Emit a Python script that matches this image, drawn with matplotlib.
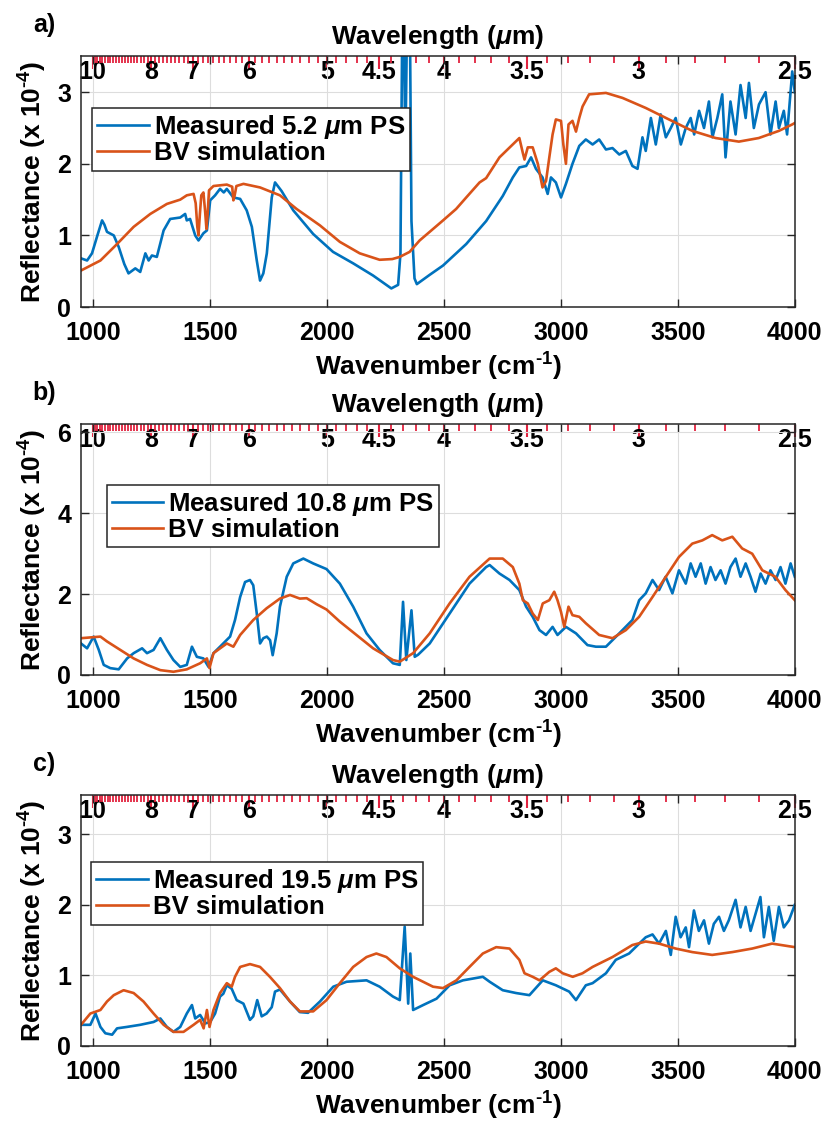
import numpy as np
import matplotlib
matplotlib.use("Agg")
import matplotlib.pyplot as plt
from matplotlib.ticker import FixedLocator

plt.rcParams['font.family'] = ['Liberation Sans', 'DejaVu Sans']
plt.rcParams['font.weight'] = 'bold'
plt.rcParams['mathtext.fontset'] = 'custom'
plt.rcParams['mathtext.rm'] = 'Liberation Sans:bold'
plt.rcParams['mathtext.it'] = 'Liberation Sans:italic'
plt.rcParams['mathtext.bf'] = 'Liberation Sans:bold'

BLUE = '#0072BD'
ORANGE = '#D95319'
RED = '#E2233F'

# ---- panel a: 5.2 um PS ----
a_meas_wn = [950, 976, 997, 1020, 1040, 1050, 1061, 1090, 1111, 1135, 1153, 1182, 1203, 1225, 1239,
             1253, 1274, 1303, 1331, 1374, 1395, 1402, 1416, 1438, 1452, 1473, 1488, 1502, 1523,
             1544, 1560, 1573, 1601, 1630, 1658, 1680, 1701, 1715, 1729, 1744, 1765, 1779, 1807,
             1857, 1942, 2027, 2113, 2198, 2276, 2305, 2315, 2322, 2330, 2336, 2342, 2356, 2362,
             2375, 2385, 2440, 2497, 2596, 2681, 2752, 2795, 2823, 2852, 2873, 2894, 2922, 2944,
             2958, 2979, 3001, 3022, 3050, 3079, 3107, 3136, 3164, 3193, 3221, 3250, 3278, 3306,
             3328, 3349, 3363, 3385, 3406, 3427, 3449, 3470, 3491, 3513, 3534, 3555, 3570, 3591,
             3612, 3633, 3648, 3669, 3690, 3704, 3725, 3747, 3768, 3790, 3804, 3825, 3847, 3875,
             3896, 3918, 3932, 3953, 3967, 3989, 4000]
a_meas = [0.68, 0.65, 0.75, 1.0, 1.21, 1.15, 1.05, 1.0, 0.84, 0.6, 0.47, 0.54, 0.49, 0.75, 0.65,
          0.72, 0.70, 1.07, 1.23, 1.25, 1.30, 1.21, 1.23, 1.0, 0.93, 1.03, 1.07, 1.49, 1.56,
          1.65, 1.60, 1.65, 1.53, 1.51, 1.35, 1.12, 0.65, 0.37, 0.47, 0.75, 1.53, 1.74, 1.62,
          1.35, 1.02, 0.77, 0.61, 0.44, 0.26, 0.31, 0.75, 3.7, 3.7, 2.2, 3.7, 3.7, 1.2,
          0.4, 0.32, 0.45, 0.58, 0.88, 1.2, 1.55, 1.81, 1.95, 1.97, 2.09, 1.93, 1.81, 1.58,
          1.81, 1.74, 1.53, 1.72, 2.0, 2.25, 2.34, 2.27, 2.34, 2.2, 2.22, 2.13, 2.18, 1.97,
          1.93, 2.37, 2.18, 2.64, 2.27, 2.69, 2.37, 2.5, 2.64, 2.27, 2.5, 2.64, 2.41, 2.74,
          2.5, 2.87, 2.37, 2.64, 2.97, 2.09, 2.87, 2.41, 3.1, 2.64, 3.13, 2.5, 2.83, 3.0,
          2.41, 2.87, 2.5, 2.74, 2.41, 3.29, 3.0]
a_sim_wn = [950, 1033, 1104, 1175, 1246, 1317, 1374, 1402, 1431, 1440, 1447, 1452, 1458, 1464, 1473,
            1480, 1486, 1491, 1497, 1516, 1573, 1596, 1601, 1606, 1614, 1644, 1715, 1800, 1871,
            1971, 2056, 2141, 2226, 2280, 2312, 2354, 2397, 2497, 2553, 2596, 2653, 2681, 2738,
            2823, 2838, 2845, 2859, 2880, 2902, 2922, 2937, 2951, 2965, 2979, 3001, 3011, 3022,
            3033, 3050, 3065, 3079, 3093, 3121, 3193, 3264, 3363, 3462, 3562, 3662, 3761, 3846,
            3932, 3989, 4000]
a_sim = [0.51, 0.65, 0.88, 1.12, 1.30, 1.44, 1.50, 1.56, 1.58, 1.45, 1.12, 1.0, 1.3, 1.56, 1.60,
         1.35, 1.09, 1.3, 1.63, 1.69, 1.71, 1.68, 1.49, 1.55, 1.69, 1.72, 1.67, 1.56, 1.37,
         1.14, 0.91, 0.75, 0.66, 0.67, 0.70, 0.77, 0.93, 1.21, 1.37, 1.53, 1.74, 1.8, 2.09,
         2.36, 2.15, 2.06, 2.23, 2.23, 2.0, 1.67, 1.76, 2.09, 2.41, 2.62, 2.6, 2.27, 2.0,
         2.55, 2.6, 2.45, 2.64, 2.8, 2.97, 2.99, 2.92, 2.78, 2.62, 2.46, 2.36, 2.31, 2.36,
         2.46, 2.55, 2.57]

# ---- panel b: 10.8 um PS ----
b_meas_wn = [950, 976, 1004, 1026, 1047, 1075, 1111, 1147, 1175, 1211, 1232, 1260, 1289, 1317, 1345,
             1374, 1402, 1424, 1445, 1473, 1495, 1516, 1544, 1587, 1608, 1630, 1651, 1672, 1686,
             1701, 1715, 1729, 1744, 1758, 1769, 1786, 1800, 1829, 1857, 1900, 1942, 1999, 2056,
             2113, 2170, 2226, 2283, 2312, 2326, 2340, 2362, 2376, 2390, 2440, 2525, 2610, 2681,
             2696, 2738, 2781, 2823, 2852, 2880, 2909, 2937, 2965, 2986, 3022, 3065, 3114, 3150,
             3193, 3250, 3306, 3335, 3363, 3392, 3420, 3448, 3477, 3505, 3534, 3555, 3576, 3598,
             3619, 3640, 3661, 3683, 3704, 3725, 3747, 3768, 3790, 3811, 3832, 3854, 3875, 3896,
             3918, 3939, 3960, 3982, 4000]
b_meas = [0.78, 0.66, 0.95, 0.62, 0.25, 0.17, 0.14, 0.41, 0.54, 0.66, 0.54, 0.62, 0.91, 0.62, 0.37,
          0.20, 0.25, 0.70, 0.45, 0.41, 0.20, 0.54, 0.70, 0.95, 1.36, 1.93, 2.30, 2.35, 2.22,
          1.52, 0.78, 0.91, 0.95, 0.86, 0.49, 1.03, 1.69, 2.43, 2.76, 2.88, 2.76, 2.62, 2.26,
          1.69, 1.03, 0.62, 0.29, 0.25, 1.81, 0.37, 1.6, 0.45, 0.50, 0.78, 1.52, 2.26, 2.67,
          2.72, 2.51, 2.35, 2.10, 1.69, 1.44, 1.11, 0.99, 1.19, 0.99, 1.19, 1.03, 0.74, 0.70,
          0.70, 1.03, 1.36, 1.85, 2.02, 2.35, 2.10, 2.43, 2.02, 2.59, 2.26, 2.76, 2.43, 2.76,
          2.26, 2.67, 2.35, 2.59, 2.26, 2.67, 2.88, 2.43, 2.76, 2.43, 2.06, 2.51, 2.26, 2.59,
          2.35, 2.67, 2.26, 2.76, 2.43]
b_sim_wn = [950, 1033, 1061, 1118, 1175, 1232, 1289, 1345, 1402, 1459, 1488, 1499, 1516, 1573, 1601,
            1630, 1686, 1743, 1800, 1843, 1885, 1914, 1957, 1999, 2056, 2127, 2198, 2283, 2312,
            2369, 2440, 2525, 2610, 2696, 2752, 2795, 2823, 2838, 2859, 2880, 2902, 2923, 2951,
            2972, 2986, 3001, 3015, 3033, 3050, 3079, 3107, 3164, 3221, 3278, 3335, 3392, 3449,
            3505, 3562, 3605, 3647, 3690, 3733, 3775, 3818, 3861, 3917, 3960, 4000]
b_sim = [0.91, 0.95, 0.83, 0.62, 0.41, 0.25, 0.12, 0.08, 0.14, 0.29, 0.41, 0.17, 0.54, 0.78, 0.70,
         0.99, 1.36, 1.65, 1.89, 1.98, 1.89, 1.90, 1.75, 1.62, 1.32, 0.99, 0.66, 0.37, 0.33,
         0.54, 1.03, 1.77, 2.43, 2.88, 2.88, 2.67, 2.26, 1.85, 1.77, 1.52, 1.36, 1.77, 1.85,
         2.06, 1.85, 1.56, 1.19, 1.69, 1.48, 1.44, 1.28, 0.99, 0.91, 1.11, 1.44, 1.93, 2.43,
         2.92, 3.25, 3.33, 3.46, 3.33, 3.42, 3.13, 3.0, 2.59, 2.43, 2.10, 1.85]

# ---- panel c: 19.5 um PS ----
c_meas_wn = [950, 990, 1012, 1033, 1054, 1083, 1104, 1146, 1203, 1260, 1289, 1317, 1345, 1374, 1402,
             1424, 1438, 1459, 1481, 1502, 1523, 1544, 1558, 1573, 1594, 1615, 1644, 1672, 1686,
             1703, 1722, 1743, 1765, 1779, 1800, 1843, 1885, 1920, 1971, 2028, 2085, 2170, 2226,
             2283, 2312, 2333, 2348, 2357, 2369, 2412, 2469, 2525, 2582, 2667, 2696, 2752, 2809,
             2866, 2923, 2979, 3036, 3065, 3107, 3136, 3193, 3235, 3292, 3335, 3363, 3392, 3420,
             3449, 3470, 3491, 3512, 3534, 3548, 3569, 3590, 3612, 3633, 3654, 3676, 3697, 3718,
             3747, 3768, 3790, 3811, 3832, 3853, 3868, 3889, 3910, 3932, 3953, 3975, 4000]
c_meas = [0.30, 0.30, 0.46, 0.27, 0.18, 0.16, 0.25, 0.27, 0.30, 0.34, 0.39, 0.27, 0.20, 0.27, 0.46,
          0.58, 0.39, 0.44, 0.32, 0.34, 0.46, 0.70, 0.74, 0.86, 0.81, 0.65, 0.60, 0.37, 0.42,
          0.65, 0.42, 0.46, 0.55, 0.77, 0.80, 0.63, 0.48, 0.47, 0.63, 0.84, 0.91, 0.93, 0.84,
          0.70, 0.65, 1.69, 0.60, 1.31, 0.51, 0.58, 0.67, 0.86, 0.93, 0.98, 0.91, 0.79, 0.75,
          0.72, 0.93, 0.86, 0.77, 0.65, 0.86, 0.89, 1.03, 1.22, 1.31, 1.45, 1.54, 1.58, 1.45,
          1.63, 1.29, 1.83, 1.54, 1.68, 1.40, 1.92, 1.63, 1.78, 1.45, 1.73, 1.83, 1.63, 1.78,
          2.07, 1.68, 1.97, 1.63, 1.87, 2.11, 1.54, 1.97, 1.49, 1.97, 1.68, 1.78, 2.00]
c_sim_wn = [950, 990, 1033, 1061, 1090, 1132, 1175, 1217, 1260, 1303, 1345, 1388, 1431, 1459, 1474,
            1488, 1499, 1516, 1544, 1573, 1594, 1608, 1630, 1672, 1715, 1757, 1800, 1843, 1885,
            1942, 1999, 2056, 2113, 2170, 2212, 2255, 2312, 2369, 2454, 2497, 2554, 2610, 2667,
            2724, 2781, 2823, 2845, 2880, 2909, 2951, 2979, 3008, 3051, 3093, 3136, 3221, 3306,
            3363, 3420, 3491, 3562, 3647, 3733, 3818, 3903, 4000]
c_sim = [0.30, 0.46, 0.51, 0.63, 0.72, 0.79, 0.75, 0.63, 0.46, 0.30, 0.20, 0.20, 0.30, 0.37, 0.25,
         0.51, 0.27, 0.51, 0.75, 0.89, 0.84, 0.98, 1.12, 1.16, 1.12, 0.98, 0.82, 0.63, 0.49,
         0.49, 0.65, 0.89, 1.12, 1.26, 1.31, 1.26, 1.10, 0.98, 0.84, 0.82, 0.93, 1.12, 1.31,
         1.40, 1.38, 1.22, 1.03, 0.98, 0.93, 1.05, 1.10, 1.03, 0.98, 1.03, 1.12, 1.26, 1.43,
         1.48, 1.45, 1.38, 1.33, 1.29, 1.33, 1.38, 1.45, 1.40]

panels = [
    ('a)', a_meas_wn, a_meas, a_sim_wn, a_sim, 'Measured 5.2 $\\mu$m PS', 3.5, [0, 1, 2, 3], (0.0154, 0.793)),
    ('b)', b_meas_wn, b_meas, b_sim_wn, b_sim, 'Measured 10.8 $\\mu$m PS', 6.2, [0, 2, 4, 6], (0.036, 0.76)),
    ('c)', c_meas_wn, c_meas, c_sim_wn, c_sim, 'Measured 19.5 $\\mu$m PS', 3.55, [0, 1, 2, 3], (0.014, 0.733)),
]

# wavelength ticks for the top axis (um)
lam_major = [10, 8, 7, 6, 5, 4.5, 4, 3.5, 3, 2.5]
lam_labels = ['10', '8', '7', '6', '5', '4.5', '4', '3.5', '3', '2.5']
lam_minor = [l for l in np.round(np.arange(2.5, 10.01, 0.1), 2) if l not in lam_major]

fig = plt.figure(figsize=(8.3, 11.28), dpi=100)
bottoms = [0.7278, 0.4016, 0.0727]
FS = 18

for (tag, mwn, mv, swn, sv, lab, ytop, yt, legpos), b in zip(panels, bottoms):
    ax = fig.add_axes([0.0976, b, 0.860, 0.2222])
    ax.plot(mwn, mv, color=BLUE, lw=1.9, label=lab)
    ax.plot(swn, sv, color=ORANGE, lw=1.9, label='BV simulation')
    ax.set_xlim(950, 4000)
    ax.set_ylim(0, ytop)
    ax.set_xticks([1000, 1500, 2000, 2500, 3000, 3500, 4000])
    ax.set_yticks(yt)
    ax.grid(True, color='#dddddd', lw=0.8)
    ax.set_axisbelow(True)
    ax.tick_params(direction='in', top=True, right=True, length=6, width=1,
                   labelsize=FS, color='#262626')
    ax.tick_params(axis='x', pad=10)
    ax.tick_params(axis='y', pad=7)
    for s in ax.spines.values():
        s.set_linewidth(1.1)
        s.set_color('#262626')
    ax.set_xlabel('Wavenumber (cm$^{\\text{-}1}$)', fontsize=FS + 1, fontweight='bold', labelpad=4)
    ax.set_ylabel('Reflectance (x 10$^{\\text{-}4}$)', fontsize=FS + 1, fontweight='bold', labelpad=6)

    sec = ax.secondary_xaxis('top')
    sec.set_xticks([10000 / l for l in lam_major], lam_labels)
    sec.xaxis.set_minor_locator(FixedLocator([10000 / l for l in lam_minor]))
    sec.tick_params(which='major', direction='in', length=9, width=1.5, color=RED,
                    labelsize=FS, pad=-20)
    sec.tick_params(which='minor', direction='in', length=5, width=1.3, color=RED)
    sec.spines['top'].set_linewidth(0)
    for t in sec.get_xticklabels():
        t.set_fontweight('bold')

    ax.text(0.5, 1.076, 'Wavelength ($\\mu$m)', transform=ax.transAxes, ha='center',
            va='center', fontsize=FS + 1, fontweight='bold')
    ax.text(-0.052, 1.125, tag, transform=ax.transAxes, ha='center', va='center',
            fontsize=FS, fontweight='bold')

    leg = ax.legend(loc='upper left', bbox_to_anchor=legpos, fontsize=FS + 0.5, frameon=True,
                    fancybox=False, framealpha=1, edgecolor='#262626', handlelength=2.0,
                    handletextpad=0.2, borderpad=0.2, labelspacing=0.0, borderaxespad=0)
    leg.get_frame().set_linewidth(1.1)

fig.savefig('out.png', dpi=100)
